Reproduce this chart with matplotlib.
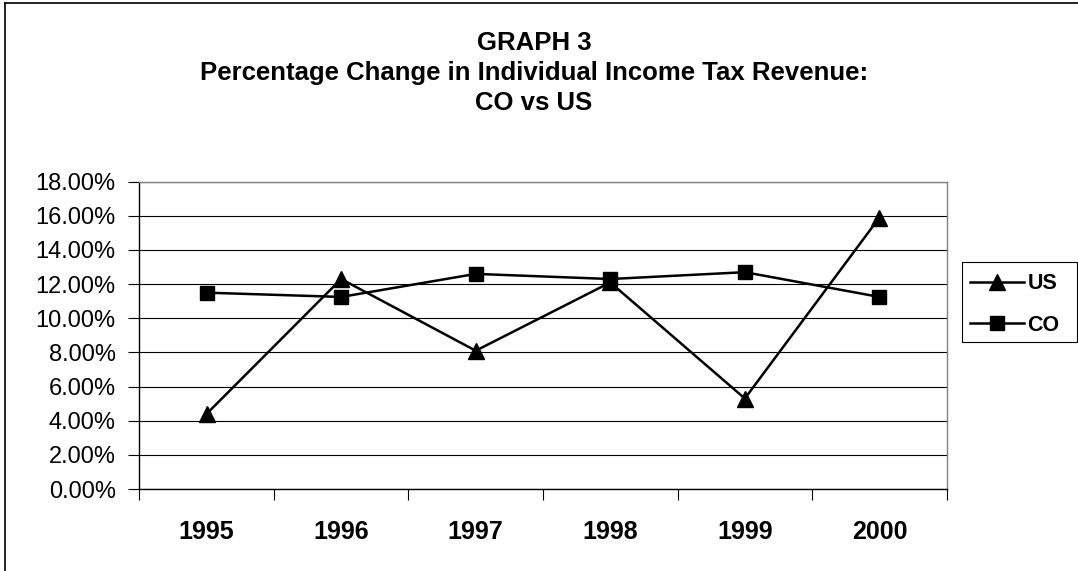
import matplotlib
matplotlib.use("Agg")
import matplotlib.pyplot as plt
from matplotlib.lines import Line2D
from matplotlib.patches import Rectangle
from matplotlib.ticker import FuncFormatter, FixedLocator
import numpy as np

plt.rcParams['font.family'] = ['Liberation Sans', 'DejaVu Sans']

years = ["1995", "1996", "1997", "1998", "1999", "2000"]
us = [4.4, 12.3, 8.1, 12.1, 5.3, 15.9]
co = [11.5, 11.25, 12.6, 12.3, 12.7, 11.25]
yticks = [0, 2, 4, 6, 8, 10, 12, 14, 16, 18]

W, H = 1078, 571
fig = plt.figure(figsize=(W / 100, H / 100), dpi=100)

ax = fig.add_axes([139.3 / W, 1 - 489 / H, (946.7 - 139.3) / W, (489 - 181.7) / H])

x = np.arange(len(years))
ax.plot(x, us, color='black', lw=1.8, marker='^', markersize=11,
        markerfacecolor='black', markeredgecolor='black', label='US', zorder=3)
ax.plot(x, co, color='black', lw=1.8, marker='s', markersize=10.5,
        markerfacecolor='black', markeredgecolor='black', label='CO', zorder=3)

ax.set_xlim(-0.5, len(years) - 0.5)
ax.set_ylim(0, 18)
ax.set_yticks(yticks)
ax.yaxis.set_major_formatter(FuncFormatter(lambda v, p: f"{v:.2f}%"))
ax.grid(axis='y', color='black', lw=0.8)
ax.set_axisbelow(True)

ax.set_xticks(x)
ax.set_xticklabels(years, fontweight='bold', fontsize=18)
ax.xaxis.set_minor_locator(FixedLocator(np.arange(-0.5, len(years), 1.0)))
ax.tick_params(axis='x', which='major', length=0, pad=22)
ax.tick_params(axis='x', which='minor', length=8, width=0.8, direction='out', color='black')
ax.tick_params(axis='y', which='major', length=8, width=0.8, direction='out',
               labelsize=17, pad=9)

for side in ['top', 'right']:
    ax.spines[side].set_color('#808080')
    ax.spines[side].set_linewidth(1.0)
for side in ['left', 'bottom']:
    ax.spines[side].set_color('black')
    ax.spines[side].set_linewidth(1.0)

# Title
cx = 534 / W
tkw = dict(ha='center', va='baseline', fontsize=18.5, fontweight='bold')
fig.text(cx, 1 - 50 / H, "GRAPH 3", **tkw)
fig.text(cx, 1 - 80 / H, "Percentage Change in Individual Income Tax Revenue:", **tkw)
fig.text(cx, 1 - 110 / H, "CO vs US", **tkw)

# Legend box
fig.add_artist(Rectangle((962 / W, 1 - 342 / H), (1077 - 962) / W, 80 / H,
                         transform=fig.transFigure, facecolor='white',
                         edgecolor='black', lw=0.8, zorder=4))
leg = fig.legend(loc='upper left', bbox_to_anchor=(964 / W, 1 - 267 / H),
                 frameon=False, prop={'weight': 'bold', 'size': 15.5},
                 handlelength=2.5, handletextpad=0.15, borderpad=0.3,
                 labelspacing=0.95, borderaxespad=0)
leg.set_zorder(5)

# Outer border (top and left)
fig.add_artist(Line2D([4.5 / W, 1], [1 - 3 / H, 1 - 3 / H], color='black', lw=1.2,
                      transform=fig.transFigure))
fig.add_artist(Line2D([4.5 / W, 4.5 / W], [0, 1 - 3 / H], color='black', lw=1.2,
                      transform=fig.transFigure))

fig.savefig("out.png", dpi=100, facecolor='white')
